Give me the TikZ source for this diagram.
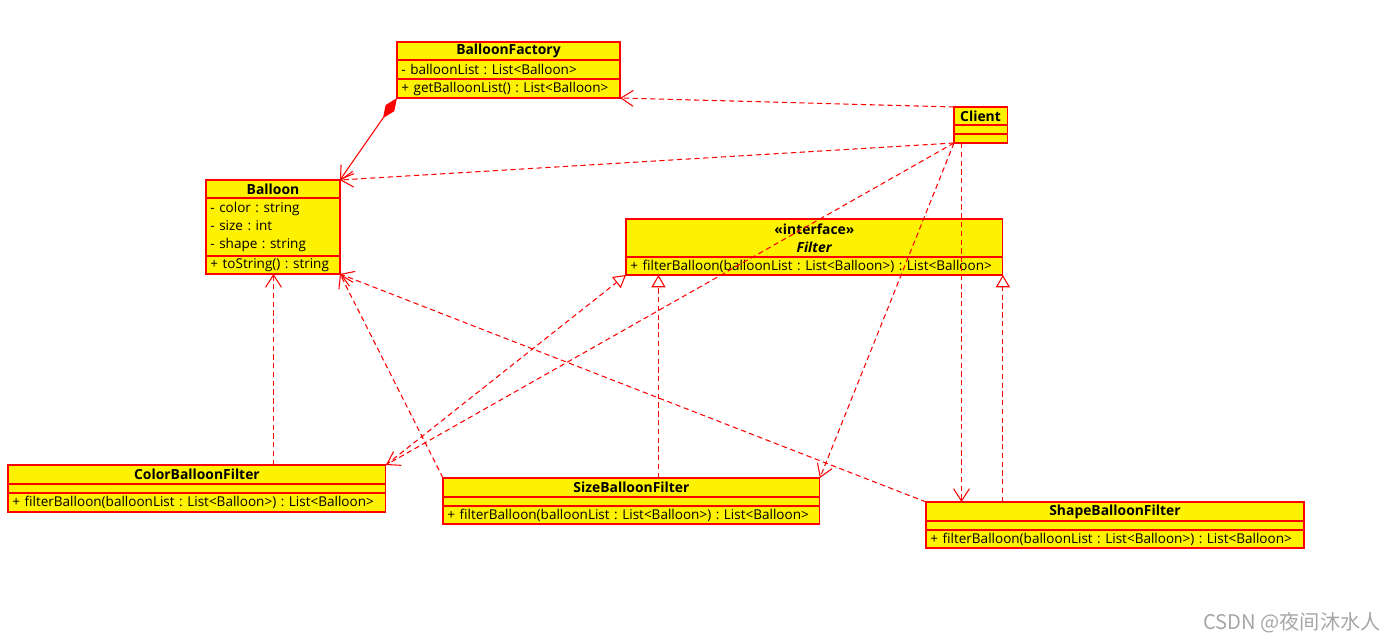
\documentclass[tikz,border=0pt]{standalone}
\usepackage{fontspec}
\newfontfamily\umlfont{Open Sans}
\newfontfamily\cjkfont{Noto Sans CJK SC}
\usetikzlibrary{arrows.meta,positioning}
\frenchspacing

\tikzset{
  box/.style={draw=red, fill=yellow, line width=0.65pt, outer sep=0pt,
    inner xsep=2.5pt, inner ysep=0pt, anchor=north west,
    font=\umlfont\fontsize{7.7}{10.5}\selectfont},
  head/.style={box, align=center, font=\umlfont\fontsize{7.9}{10.5}\selectfont\bfseries},
  part/.style={box, align=left},
  dep/.style={red, line width=0.6pt, dash pattern=on 3pt off 2pt,
    -{Straight Barb[length=7pt,width=9pt]}},
  real/.style={red, line width=0.6pt, dash pattern=on 3pt off 2pt,
    -{Triangle[open,length=7pt,width=8pt,fill=white]}},
  comp/.style={red, line width=0.6pt,
    {Diamond[length=14pt,width=6pt]}-{Straight Barb[length=7pt,width=9pt]}}
}

\begin{document}
\begin{tikzpicture}[x=0.02cm,y=-0.02cm]
\useasboundingbox (0,0) rectangle (1393,641);

% BalloonFactory
\node[head, minimum height=0.36cm, text width=121.9pt] (bfh) at (397,42) {BalloonFactory};
\node[part, below=0pt of bfh, minimum height=0.38cm, text width=121.9pt] (bfa) {- balloonList : List<Balloon>};
\node[part, below=0pt of bfa, minimum height=0.38cm, text width=121.9pt] (bfm) {+ getBalloonList() : List<Balloon>};

% Client
\node[head, minimum height=0.36cm, text width=25.2pt] (clh) at (954,107) {Client};
\node[part, below=0pt of clh, minimum height=0.18cm, text width=25.2pt] (cla) {};
\node[part, below=0pt of cla, minimum height=0.18cm, text width=25.2pt] (clm) {};

% Balloon
\node[head, minimum height=0.36cm, text width=71.25pt] (bah) at (206,180) {Balloon};
\node[part, below=0pt of bah, minimum height=1.16cm, text width=71.25pt] (baa) {- color : string\\- size : int\\- shape : string};
\node[part, below=0pt of baa, minimum height=0.36cm, text width=71.25pt] (bam) {+ toString() : string};

% Filter
\node[head, minimum height=0.76cm, text width=209.5pt] (flh) at (626,219) {«interface»\\\textit{Filter}};
\node[part, below=0pt of flh, minimum height=0.36cm, text width=209.5pt] (flm) {+ filterBalloon(balloonList : List<Balloon>) : List<Balloon>};

% ColorBalloonFilter
\node[head, minimum height=0.38cm, text width=210.1pt] (coh) at (8,465) {ColorBalloonFilter};
\node[part, below=0pt of coh, minimum height=0.18cm, text width=210.1pt] (coa) {};
\node[part, below=0pt of coa, minimum height=0.38cm, text width=210.1pt] (com) {+ filterBalloon(balloonList : List<Balloon>) : List<Balloon>};

% SizeBalloonFilter
\node[head, minimum height=0.38cm, text width=209.5pt] (szh) at (443,478) {SizeBalloonFilter};
\node[part, below=0pt of szh, minimum height=0.18cm, text width=209.5pt] (sza) {};
\node[part, below=0pt of sza, minimum height=0.36cm, text width=209.5pt] (szm) {+ filterBalloon(balloonList : List<Balloon>) : List<Balloon>};

% ShapeBalloonFilter
\node[head, minimum height=0.38cm, text width=210.1pt] (shh) at (926,502) {ShapeBalloonFilter};
\node[part, below=0pt of shh, minimum height=0.18cm, text width=210.1pt] (sha) {};
\node[part, below=0pt of sha, minimum height=0.36cm, text width=210.1pt] (shm) {+ filterBalloon(balloonList : List<Balloon>) : List<Balloon>};

\node[anchor=east, text=black!35, inner sep=0pt, font=\cjkfont\fontsize{11.5}{12}\selectfont] (wm) at (1381,623) {CSDN @夜间沐水人};

\coordinate (clx) at ([xshift=0.71cm]shh.north west);
\coordinate (szx) at ([xshift=4.31cm]szh.north west);
\coordinate (bax) at ([xshift=0.01cm]bam.south);

% dependencies of Client
\draw[dep] (clh.north west) -- (bfm.south east);
\draw[dep] (clm.south west) -- (bah.north east);
\draw[dep] (clm.south west) -- (coh.north east);
\draw[dep] (clm.south west) -- (szh.north east);
\draw[dep] (clm.south -| clx) -- (clx);

% realizations of Filter
\draw[real] (coh.north east) -- (flm.south west);
\draw[real] (szx) -- (szx |- flm.south);
\draw[real] (flm.south east |- shh.north) -- (flm.south east);

% filters use Balloon
\draw[dep] (bax |- coh.north) -- (bax);
\draw[dep] (szh.north west) -- (bam.south east);
\draw[dep] (shh.north west) -- (bam.south east);

% composition
\draw[comp] (bfm.south west) -- (bah.north east);
\end{tikzpicture}
\end{document}
